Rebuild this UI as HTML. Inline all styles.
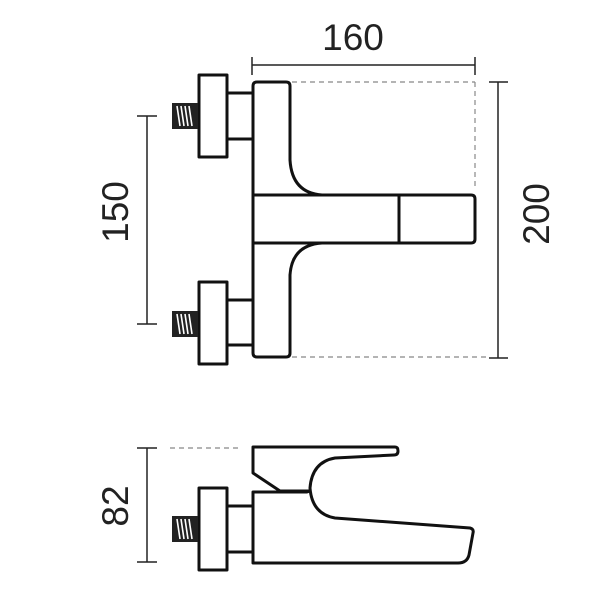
<!DOCTYPE html>
<html><head><style>html,body{margin:0;padding:0;background:#fff}svg{display:block}</style></head><body>
<svg width="600" height="600" viewBox="0 0 600 600" xmlns="http://www.w3.org/2000/svg">
<defs>
<g id="thr">
<rect x="172" y="0" width="26" height="26" fill="#222"/>
<g stroke="#fff" stroke-width="1.6">
<line x1="177" y1="3" x2="180" y2="23"/><line x1="181" y1="3" x2="184" y2="23"/><line x1="185" y1="3" x2="188" y2="23"/><line x1="189" y1="3" x2="192" y2="23"/>
</g>
</g>
</defs>
<g fill="none" stroke="#222" stroke-width="1.5">
<line x1="252" y1="65" x2="475" y2="65"/>
<line x1="252" y1="57" x2="252" y2="75"/><line x1="475" y1="57" x2="475" y2="75"/>
<line x1="147" y1="116" x2="147" y2="324"/>
<line x1="137" y1="116" x2="157" y2="116"/><line x1="137" y1="324" x2="157" y2="324"/>
<line x1="498" y1="82" x2="498" y2="358"/>
<line x1="489" y1="82" x2="508" y2="82"/><line x1="489" y1="358" x2="508" y2="358"/>
<line x1="147" y1="448" x2="147" y2="562"/>
<line x1="137" y1="448" x2="157" y2="448"/><line x1="137" y1="562" x2="157" y2="562"/>
</g>
<g fill="none" stroke="#888" stroke-width="1.2" stroke-dasharray="5,4">
<line x1="292" y1="82" x2="475" y2="82"/>
<line x1="475" y1="82" x2="475" y2="190"/>
<line x1="292" y1="357" x2="490" y2="357"/>
<line x1="170" y1="448" x2="240" y2="448"/>
</g>
<g fill="#fff" stroke="#111" stroke-width="3" stroke-linejoin="round">
<rect x="227" y="93" width="26" height="46"/>
<rect x="199" y="75" width="28" height="82"/>
<rect x="227" y="300" width="26" height="45"/>
<rect x="199" y="282" width="28" height="82"/>
<path d="M257,82 H286 Q290,82 290,86 V160 Q292,193 322,195 H471 Q475,195 475,199 V239 Q475,243 471,243 H322 Q292,245 290,275 V353 Q290,357 286,357 H257 Q253,357 253,353 V86 Q253,82 257,82 Z"/>
<line x1="253" y1="195" x2="322" y2="195"/>
<line x1="253" y1="243" x2="322" y2="243"/>
<line x1="399" y1="195" x2="399" y2="243"/>
<rect x="227" y="506" width="26" height="46"/>
<rect x="199" y="488" width="28" height="82"/>
<path d="M253,492 H307 Q307,492 310,491 L280,491 L253,473 V447 H395 Q398,447 398,451 Q398,455 394,455 L335,458 Q312,462 310,488 Q312,514 335,518 L470,528 Q474,529 473,533 L469,555 Q467,563 458,563 H253 Z"/>
</g>
<use href="#thr" y="103"/>
<use href="#thr" y="311"/>
<use href="#thr" y="516"/>
<g font-family="Liberation Sans, sans-serif" font-size="37" fill="#222" text-anchor="middle">
<text x="353" y="50">160</text>
<text transform="translate(128,212) rotate(-90)">150</text>
<text transform="translate(549,214) rotate(-90)">200</text>
<text transform="translate(128,506) rotate(-90)">82</text>
</g>
</svg>
</body></html>
